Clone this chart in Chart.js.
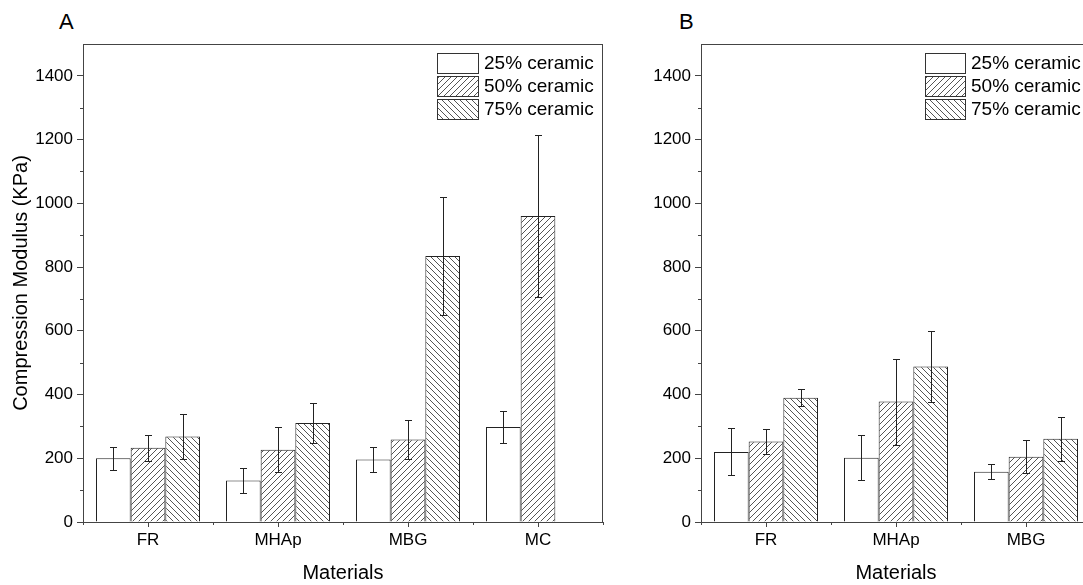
<!DOCTYPE html>
<html>
<head>
<meta charset="utf-8">
<script src="https://cdn.jsdelivr.net/npm/chart.js@4"></script>
<style>
  html, body { margin: 0; padding: 0; background: #fff; overflow: hidden; width: 1083px; height: 585px; }
  #wrapA { position: absolute; left: 0; top: 0; }
  #wrapB { position: absolute; left: 620px; top: 0; }
  .panel { position: absolute; top: 11px; font: 22px/22px "Liberation Sans", Arial, sans-serif; color: #000; }
</style>
</head>
<body>
<div class="panel" style="left:59px">A</div>
<div class="panel" style="left:679px">B</div>
<div id="wrapA"><canvas id="chartA" width="620" height="585"></canvas></div>
<div id="wrapB"><canvas id="chartB" width="480" height="585"></canvas></div>
<script>
// data (KPa)
const seriesLabels = ["25% ceramic", "50% ceramic", "75% ceramic"];

const categoriesA = ["FR", "MHAp", "MBG", "MC"];
const a25 = [200, 130, 196, 298];
const a25err = [36, 40, 40, 49];
const a50 = [233, 227, 259, 960];
const a50err = [41, 71, 62, 253];
const a75 = [268, 311, 835, null];
const a75err = [70, 62, 185, null];

const categoriesB = ["FR", "MHAp", "MBG"];
const b25 = [220, 202, 158];
const b25err = [74, 71, 23];
const b50 = [253, 378, 205];
const b50err = [40, 135, 52];
const b75 = [390, 488, 261];
const b75err = [27, 112, 70];

const yMax = 1500;

Chart.defaults.font.family = '"Liberation Sans", Arial, sans-serif';
Chart.defaults.color = "#000";

function hatch(forward) {
    const s = 6;
    const c = document.createElement("canvas");
    c.width = s;
    c.height = s;
    const g = c.getContext("2d");
    g.fillStyle = "#fff";
    g.fillRect(0, 0, s, s);
    g.strokeStyle = "#555";
    g.lineWidth = 1;
    g.beginPath();
    if (forward) {
        g.moveTo(0, s); g.lineTo(s, 0);
        g.moveTo(-1, 1); g.lineTo(1, -1);
        g.moveTo(s - 1, s + 1); g.lineTo(s + 1, s - 1);
    } else {
        g.moveTo(0, 0); g.lineTo(s, s);
        g.moveTo(-1, s - 1); g.lineTo(1, s + 1);
        g.moveTo(s - 1, -1); g.lineTo(s + 1, 1);
    }
    g.stroke();
    return g.createPattern(c, "repeat");
}

const fills = ["#fff", hatch(true), hatch(false)];

// error bars, minor ticks, frame and the legend inside the plot
const extras = {
    id: "extras",
    afterDatasetsDraw(chart, args, opts) {
        const ctx = chart.ctx;
        const y = chart.scales.y;
        const xs = chart.scales.x;
        const a = chart.chartArea;
        ctx.save();
        ctx.strokeStyle = "#222";
        ctx.lineWidth = 1;
        chart.data.datasets.forEach((ds, i) => {
            const meta = chart.getDatasetMeta(i);
            meta.data.forEach((bar, j) => {
                const v = ds.data[j];
                const e = ds.errors[j];
                if (v == null) return;
                const x = Math.round(bar.x) + 0.5;
                const top = Math.round(y.getPixelForValue(v + e)) + 0.5;
                const bot = Math.round(y.getPixelForValue(v - e)) + 0.5;
                ctx.beginPath();
                ctx.moveTo(x, top); ctx.lineTo(x, bot);
                ctx.moveTo(x - 3.5, top); ctx.lineTo(x + 3.5, top);
                ctx.moveTo(x - 3.5, bot); ctx.lineTo(x + 3.5, bot);
                ctx.stroke();
            });
        });

        ctx.strokeStyle = "#444";
        ctx.beginPath();
        for (let v = 100; v < yMax; v += 200) {
            const py = Math.round(y.getPixelForValue(v)) + 0.5;
            ctx.moveTo(a.left - 3, py);
            ctx.lineTo(a.left, py);
        }
        for (let i = 0; i <= xs.ticks.length; i++) {
            const px = Math.round(xs.getPixelForValue(i - 0.5)) + 0.5;
            ctx.moveTo(px, a.bottom);
            ctx.lineTo(px, a.bottom + 3);
        }
        ctx.moveTo(a.left, a.top + 0.5);
        ctx.lineTo(a.right, a.top + 0.5);
        ctx.moveTo(a.right - 0.5, a.top);
        ctx.lineTo(a.right - 0.5, a.bottom);
        ctx.stroke();

        ctx.font = '19px "Liberation Sans", Arial, sans-serif';
        ctx.textBaseline = "middle";
        chart.data.datasets.forEach((ds, i) => {
            const bx = opts.x, by = opts.y + i * 23;
            ctx.fillStyle = ds.backgroundColor;
            ctx.fillRect(bx, by, opts.boxW, 21);
            ctx.strokeStyle = "#333";
            ctx.strokeRect(bx + 0.5, by + 0.5, opts.boxW - 1, 20);
            ctx.fillStyle = "#000";
            ctx.fillText(ds.label, bx + opts.boxW + 5, by + 11);
        });
        ctx.restore();
    }
};

function makeChart(id, labels, values, errors, yTitle, yWidth, pad, legendPos) {
    return new Chart(document.getElementById(id).getContext("2d"), {
        type: "bar",
        data: {
            labels: labels,
            datasets: seriesLabels.map((name, i) => ({
                label: name,
                data: values[i],
                errors: errors[i],
                backgroundColor: fills[i],
                borderColor: "#222",
                borderWidth: 1,
                categoryPercentage: 0.8,
                barPercentage: 1.0
            }))
        },
        options: {
            responsive: false,
            animation: false,
            layout: { padding: pad },
            plugins: {
                legend: { display: false },
                tooltip: { enabled: false },
                extras: legendPos
            },
            scales: {
                x: {
                    ticks: { font: { size: 17 }, padding: 3, color: "#000" },
                    grid: { drawOnChartArea: false, tickLength: 5, color: "#444", offset: false },
                    border: { color: "#444" },
                    title: { display: true, text: "Materials", font: { size: 20 }, color: "#000", padding: { top: 0, bottom: 0 } },
                    afterFit: s => { s.height = 63; }
                },
                y: {
                    min: 0,
                    max: yMax,
                    ticks: {
                        stepSize: 200,
                        includeBounds: false,
                        autoSkip: false,
                        font: { size: 17 },
                        padding: 4,
                        color: "#000",
                        callback: v => String(v)
                    },
                    grid: { drawOnChartArea: false, tickLength: 6, color: "#444" },
                    border: { color: "#444" },
                    title: { display: !!yTitle, text: yTitle, font: { size: 20 }, color: "#000", padding: 0 },
                    afterFit: s => { s.width = yWidth; }
                }
            }
        },
        plugins: [extras]
    });
}

makeChart("chartA", categoriesA, [a25, a50, a75], [a25err, a50err, a75err],
    "Compression Modulus (KPa)", 74, { left: 9, top: 44, right: 17, bottom: 0 },
    { x: 437, y: 53, boxW: 42 });

makeChart("chartB", categoriesB, [b25, b50, b75], [b25err, b50err, b75err],
    "", 81, { left: 0, top: 44, right: 9, bottom: 0 },
    { x: 305, y: 53, boxW: 41 });
</script>
</body>
</html>
